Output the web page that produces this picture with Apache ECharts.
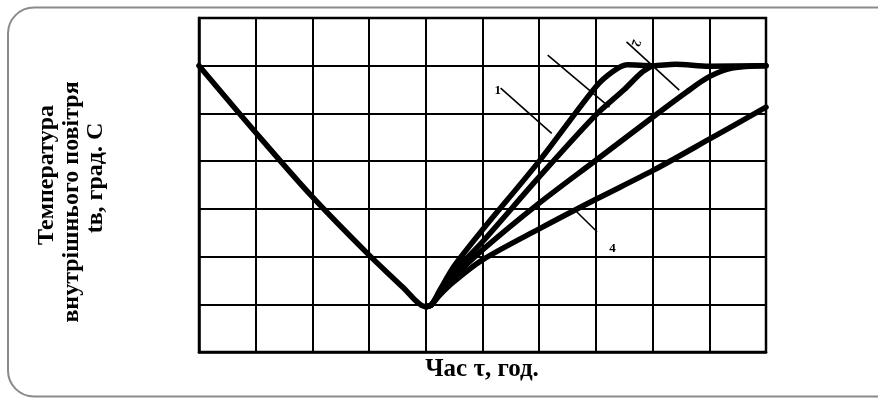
<!DOCTYPE html>
<html>
<head>
<meta charset="utf-8">
<script src="https://cdn.jsdelivr.net/npm/echarts@6/dist/echarts.min.js"></script>
<style>
  html, body { margin: 0; padding: 0; background: #fff; }
  #chart { width: 878px; height: 403px; }
</style>
</head>
<body>
<div id="chart"></div>
<script>
// охолодження приміщення (спільна гілка)
const coolTime = [0, 1, 2, 3, 3.6, 3.8, 3.92, 4]
const coolTemp = [6, 4.6, 3.25, 2.03, 1.35, 1.1, 0.98, 0.95]
// криві натопу 1..4
const heat1Time = [4, 4.1, 4.25, 4.5, 5, 6, 7, 7.3, 7.55, 8, 8.4, 9, 10]
const heat1Temp = [0.95, 0.99, 1.3, 1.8, 2.56, 4.0, 5.56, 5.88, 6.02, 6.0, 6.03, 5.99, 6.0]
const heat2Time = [4, 4.1, 4.25, 4.5, 5, 6, 7, 7.5, 7.8, 8]
const heat2Temp = [0.95, 0.99, 1.27, 1.68, 2.31, 3.67, 4.97, 5.5, 5.85, 6.0]
const heat3Time = [4, 4.1, 4.25, 4.5, 5, 6, 7, 8, 8.6, 9, 9.4, 10]
const heat3Temp = [0.95, 0.99, 1.24, 1.58, 2.14, 3.12, 4.02, 4.92, 5.45, 5.77, 5.95, 6.0]
const heat4Time = [4, 4.1, 4.25, 4.5, 5, 6, 7, 8, 9, 10]
const heat4Temp = [0.95, 0.99, 1.2, 1.48, 1.93, 2.58, 3.2, 3.8, 4.46, 5.13]
// виноски до кривих
const leaderNames = ['1', '', '2', '4']
const leaders = [
  [[5.32, 5.53], [6.22, 4.58]],
  [[6.15, 6.22], [7.24, 5.13]],
  [[7.54, 6.50], [8.47, 5.49]],
  [[6.66, 2.94], [7.02, 2.52]],
]

const zip = (xs, ys) => xs.map((x, i) => [x, ys[i]])

const chart = echarts.init(document.getElementById('chart'))

const curveStyle = {
  type: 'line',
  smooth: 0.3,
  showSymbol: false,
  symbol: 'none',
  lineStyle: { color: '#000', width: 5.5, cap: 'round', join: 'round' },
  z: 5,
}

const serif = '"Liberation Serif", "DejaVu Serif", serif'
const titleFont = 'bold 24px ' + serif

var option = {
  animation: false,
  backgroundColor: '#fff',
  grid: { left: 199, top: 18, width: 567, height: 334, show: true, borderColor: '#000', borderWidth: 2.5 },
  xAxis: {
    type: 'value', min: 0, max: 10, interval: 1,
    axisLabel: { show: false }, axisTick: { show: false },
    axisLine: { show: true, lineStyle: { color: '#000', width: 2.5 } },
    splitLine: { show: true, lineStyle: { color: '#000', width: 2 } },
  },
  yAxis: {
    type: 'value', min: 0, max: 7, interval: 1,
    axisLabel: { show: false }, axisTick: { show: false },
    axisLine: { show: true, lineStyle: { color: '#000', width: 2.5 } },
    splitLine: { show: true, lineStyle: { color: '#000', width: 2 } },
  },
  graphic: [
    {
      type: 'rect', silent: true, z: -10,
      shape: { x: 8, y: 7.5, width: 900, height: 389, r: 26 },
      style: { fill: '#fff', stroke: '#8a8a8a', lineWidth: 2 },
    },
    {
      type: 'text', x: 482, y: 370, z: 20,
      style: { text: 'Час τ, год.', font: 'bold 25px ' + serif, fill: '#000', align: 'center', verticalAlign: 'middle' },
    },
    {
      type: 'text', x: 47, y: 175, rotation: Math.PI / 2, z: 20,
      style: { text: 'Температура', font: titleFont, fill: '#000', align: 'center', verticalAlign: 'middle' },
    },
    {
      type: 'text', x: 72, y: 202, rotation: Math.PI / 2, z: 20,
      style: { text: 'внутрішнього повітря', font: titleFont, fill: '#000', align: 'center', verticalAlign: 'middle' },
    },
    {
      type: 'text', x: 96, y: 178, rotation: Math.PI / 2, z: 20,
      style: { text: 'tв, град. С', font: titleFont, fill: '#000', align: 'center', verticalAlign: 'middle' },
    },
  ],
  series: [
    Object.assign({ name: 'cool', data: zip(coolTime, coolTemp) }, curveStyle),
    Object.assign({ name: '1', data: zip(heat1Time, heat1Temp) }, curveStyle),
    Object.assign({ name: '2', data: zip(heat2Time, heat2Temp) }, curveStyle),
    Object.assign({ name: '3', data: zip(heat3Time, heat3Temp) }, curveStyle),
    Object.assign({ name: '4', data: zip(heat4Time, heat4Temp) }, curveStyle),
  ].concat(leaders.map((seg, i) => ({
    name: 'leader' + i,
    type: 'line',
    data: seg,
    showSymbol: false,
    symbol: 'none',
    lineStyle: { color: '#000', width: 1.6 },
    z: 4,
  }))),
}

chart.setOption(option)

// підписи кривих біля початку виносок
const labelShift = [[-3, 3], null, [9, 1], [36, 37]]
const labelRot = [0, 0, -1.9, 0]
const labelTexts = leaders.map((seg, i) => {
  if (!leaderNames[i]) return null
  const p = chart.convertToPixel({ gridIndex: 0 }, seg[0])
  return {
    type: 'text', z: 20,
    x: p[0] + labelShift[i][0],
    y: p[1] + labelShift[i][1],
    rotation: labelRot[i],
    style: { text: leaderNames[i], font: 'bold 13px ' + serif, fill: '#000', align: 'center', verticalAlign: 'middle' },
  }
}).filter(Boolean)

chart.setOption({ graphic: option.graphic.concat(labelTexts) })
</script>
</body>
</html>
